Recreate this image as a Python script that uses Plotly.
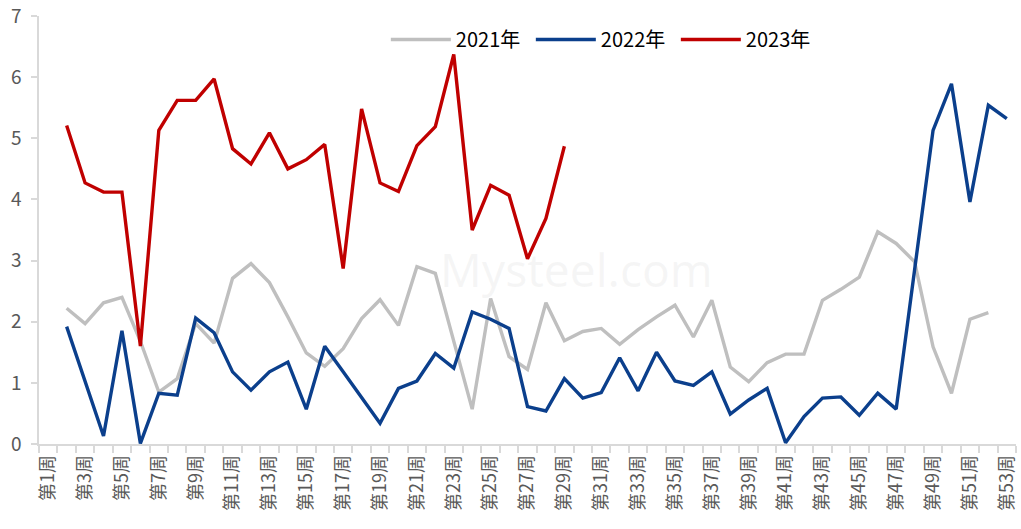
import plotly.graph_objects as go

weeks = [f"第{i}周" for i in range(1, 54)]

s2021 = [None, 2.22, 1.97, 2.31, 2.40, 1.68, 0.85, 1.07, 1.97, 1.65,
         2.71, 2.95, 2.64, 2.08, 1.49, 1.27, 1.56, 2.05, 2.36, 1.94,
         2.90, 2.79, 1.67, 0.57, 2.38, 1.43, 1.22, 2.31, 1.69, 1.84,
         1.89, 1.63, 1.87, 2.08, 2.27, 1.75, 2.35, 1.26, 1.02, 1.33,
         1.47, 1.47, 2.35, 2.53, 2.73, 3.47, 3.28, 2.98, 1.59, 0.83,
         2.04, 2.15, None]

s2022 = [None, 1.92, 1.02, 0.13, 1.85, 0.01, 0.83, 0.80, 2.06, 1.82,
         1.18, 0.88, 1.18, 1.34, 0.57, 1.60, 1.18, 0.76, 0.34, 0.91,
         1.03, 1.48, 1.24, 2.16, 2.04, 1.89, 0.61, 0.54, 1.07, 0.75,
         0.84, 1.41, 0.87, 1.50, 1.03, 0.96, 1.18, 0.49, 0.72, 0.91,
         0.02, 0.45, 0.75, 0.77, 0.47, 0.83, 0.57, 2.85, 5.13, 5.89,
         3.96, 5.54, 5.32]

s2023 = [None, 5.21, 4.27, 4.12, 4.12, 1.60, 5.13, 5.62, 5.62, 5.97,
         4.83, 4.58, 5.09, 4.50, 4.65, 4.90, 2.87, 5.48, 4.27, 4.13,
         4.88, 5.19, 6.37, 3.50, 4.23, 4.07, 3.03, 3.69, 4.87]

series = [("2021年", s2021, "#BFBFBF"),
          ("2022年", s2022, "#0B3F8C"),
          ("2023年", s2023, "#C00000")]

y_ticks = [0, 1, 2, 3, 4, 5, 6, 7]

xpos = list(range(1, len(weeks) + 1))

fig = go.Figure()
for name, vals, color in series:
    fig.add_trace(go.Scatter(
        x=xpos[:len(vals)], y=vals, name=name, mode="lines",
        line=dict(color=color, width=3.4), connectgaps=False,
    ))

label_idx = xpos[::2]
fig.update_layout(
    width=1021, height=529,
    margin=dict(l=39, r=5, t=16, b=85),
    paper_bgcolor="white", plot_bgcolor="white",
    font=dict(family="Noto Sans CJK SC, Noto Sans, sans-serif", color="#595959"),
    showlegend=True,
    legend=dict(orientation="h", x=0.355, xanchor="left", y=0.945, yanchor="middle",
                font=dict(size=20, color="#000000"), bgcolor="rgba(0,0,0,0)",
                entrywidth=70, entrywidthmode="pixels", itemwidth=60),
    xaxis=dict(
        range=[0.5, len(weeks) + 0.5],
        tickmode="array", tickvals=label_idx,
        ticktext=[weeks[i - 1] for i in label_idx],
        tickangle=-90, ticks="", showgrid=False, zeroline=False,
        showline=True, linecolor="#D9D9D9", linewidth=1.5,
        tickfont=dict(size=18, color="#595959"), automargin=False,
        ticklabelstandoff=2,
        minor=dict(tickmode="linear", tick0=0.5, dtick=1, ticks="outside",
                   ticklen=7, tickwidth=1.5, tickcolor="#D9D9D9", showgrid=False),
    ),
    yaxis=dict(
        range=[0, 7], tickmode="array", tickvals=y_ticks,
        showgrid=False, zeroline=False, automargin=False,
        showline=True, linecolor="#D9D9D9", linewidth=1.5,
        ticks="outside", ticklen=6, tickwidth=1.5, tickcolor="#D9D9D9",
        tickfont=dict(size=19, color="#595959"), ticklabelstandoff=6,
    ),
)

fig.add_annotation(text="Mysteel.com", xref="paper", yref="paper",
                   x=0.55, y=0.41, showarrow=False,
                   font=dict(size=46, color="rgba(180,180,180,0.12)",
                             family="Noto Sans, sans-serif"))

fig.write_html("out.html", config={"displayModeBar": False},
               post_script="document.body.style.margin='0px';")
